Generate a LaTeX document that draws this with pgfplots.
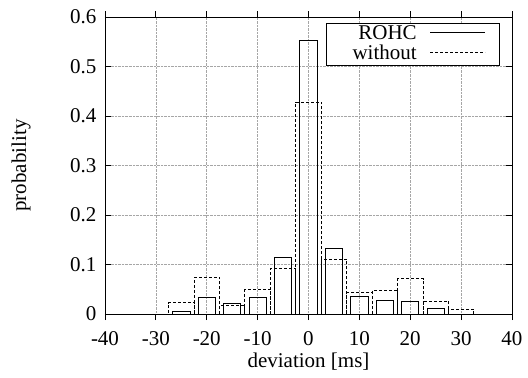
\documentclass[border=0pt]{standalone}
\usepackage{fontspec}
\setmainfont{Liberation Serif}
\usepackage{pgfplots}
\pgfplotsset{compat=1.18}
\newcommand\myfont{\fontsize{21bp}{25bp}\selectfont}
\begin{document}
\begin{tikzpicture}
\begin{axis}[
  scale only axis, width=407bp, height=297bp,
  xmin=-40, xmax=40, ymin=0, ymax=0.6,
  xtick={-40,-30,...,40}, ytick={0,0.1,0.2,0.3,0.4,0.5,0.6},
  /pgf/number format/assume math mode=true,
  yticklabel style={/pgf/number format/fixed, /pgf/number format/precision=1, xshift=-5bp},
  xticklabel style={yshift=-8bp},
  tick label style={font=\myfont},
  tick align=inside, tick pos=both, major tick length=6bp,
  tick style={black, line width=0.8bp},
  axis line style={black, line width=0.9bp},
  grid=major, grid style={densely dotted, gray!70, line width=0.7bp},
  xlabel={deviation [ms]}, ylabel={probability},
  every axis x label/.style={at={(axis description cs:0.5,-0.162)}, anchor=center, font=\myfont},
  every axis y label/.style={at={(axis description cs:-0.2064,0.5)}, anchor=center, rotate=90, font=\myfont},
  ybar,
  legend plot pos=right,
  legend cell align=right,
  legend style={font=\myfont, at={(axis description cs:0.9705,0.9808)}, anchor=north east,
    draw=black, line width=0.8bp, inner xsep=14bp, inner ysep=2bp, column sep=13bp, row sep=2bp,
    nodes={inner sep=0pt, text height=14bp, text depth=4bp}},
]
\addplot[bar width=3.4, bar shift=0pt, draw=black, fill=none, line width=0.9bp,
  legend image code/.code={\draw[black, solid, line width=0.9bp] (0bp,2bp) -- (55bp,2bp);}]
  coordinates {(-25,0.005) (-20,0.034) (-15,0.022) (-10,0.034) (-5,0.114) (0,0.552) (5,0.133) (10,0.035) (15,0.028) (20,0.026) (25,0.0115)};
\addlegendentry{\makebox[76bp][r]{ROHC}}
\addplot[bar width=5, bar shift=0pt, draw=black, fill=none, line width=0.9bp, dash pattern=on 3bp off 2bp,
  legend image code/.code={\draw[black, line width=0.8bp, dash pattern=on 3bp off 2bp] (0bp,2bp) -- (55bp,2bp);}]
  coordinates {(-25,0.023) (-20,0.074) (-15,0.017) (-10,0.050) (-5,0.092) (0,0.428) (5,0.110) (10,0.044) (15,0.048) (20,0.071) (25,0.026) (30,0.010)};
\addlegendentry{\makebox[76bp][r]{without}}
\end{axis}
\pgfresetboundingbox
\path (-105bp,-64bp) rectangle (423bp,314bp);
\end{tikzpicture}
\end{document}
